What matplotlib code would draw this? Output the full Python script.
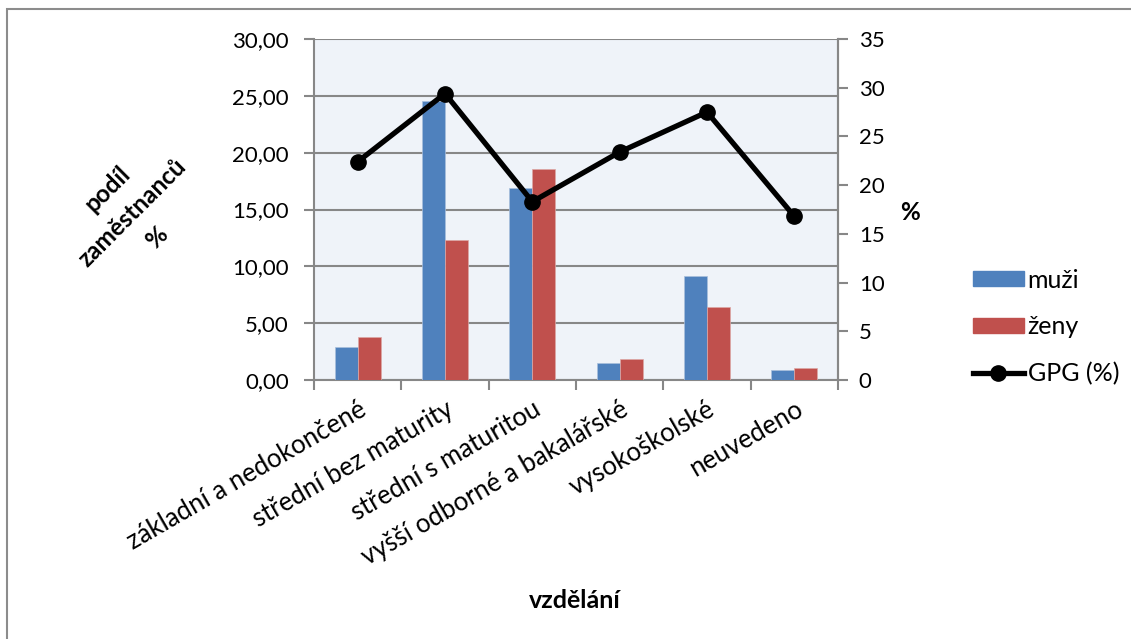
import matplotlib
matplotlib.use("Agg")
import matplotlib.pyplot as plt
from matplotlib.patches import Rectangle
from matplotlib.lines import Line2D
from matplotlib.ticker import FixedLocator, FuncFormatter
import numpy as np

plt.rcParams['font.family'] = ['Lato', 'DejaVu Sans']

categories = ["základní a nedokončené", "střední bez maturity", "střední s maturitou",
              "vyšší odborné a bakalářské", "vysokoškolské", "neuvedeno"]
muzi = [2.93, 24.56, 16.89, 1.47, 9.19, 0.88]
zeny = [3.81, 12.33, 18.56, 1.82, 6.44, 1.03]
gpg = [22.4, 29.4, 18.3, 23.4, 27.5, 16.8]

BLUE = "#4F81BD"
RED = "#C0504D"
GRID = "#878787"

W, H = 1131, 639
fig = plt.figure(figsize=(W / 100, H / 100), dpi=100)
fig.patch.set_facecolor("white")

# outer chart frame
fig.add_artist(Rectangle((7 / W, -0.1), 1.2, 1 - 9 / H + 0.1, transform=fig.transFigure,
                         fill=False, edgecolor="#8C8C8C", linewidth=1.5))

L, R, T, B = 314, 838, 39, 380
ax = fig.add_axes([L / W, 1 - B / H, (R - L) / W, (B - T) / H])
ax.set_facecolor("#EFF3F9")

x = np.arange(len(categories))
bw = 0.265
ax.bar(x - bw / 2, muzi, bw, color=BLUE, edgecolor="#A9BFDC", linewidth=0.5, zorder=3, label="muži")
ax.bar(x + bw / 2, zeny, bw, color=RED, edgecolor="#DCA8A6", linewidth=0.5, zorder=3, label="ženy")

ax.set_xlim(-0.5, len(categories) - 0.5)
ax.set_ylim(0, 30)
ax.set_yticks(np.arange(0, 31, 5))
ax.yaxis.set_major_formatter(FuncFormatter(lambda v, p: f"{v:.2f}".replace(".", ",")))
ax.grid(axis="y", color=GRID, linewidth=1.5, zorder=1)
ax.set_axisbelow(True)

ax.xaxis.set_major_locator(FixedLocator(x))
ax.set_xticklabels(categories, rotation=30, ha="right", rotation_mode="anchor", fontsize=18.5)
ax.xaxis.set_minor_locator(FixedLocator(np.arange(-0.5, len(categories), 1)))
ax.tick_params(axis="x", which="major", length=0, pad=12)
ax.tick_params(axis="x", which="minor", length=7, width=1.5, color=GRID, direction="out")
ax.tick_params(axis="y", length=7, width=1.5, color=GRID, labelsize=16, pad=11)
ax.spines["top"].set_visible(False)
for s in ["left", "right", "bottom"]:
    ax.spines[s].set_color(GRID)
    ax.spines[s].set_linewidth(1.5)

ax2 = ax.twinx()
ax2.plot(x, gpg, color="black", linewidth=3.8, marker="o", markersize=11, zorder=5, label="GPG (%)")
ax2.set_ylim(0, 35)
ax2.set_yticks(np.arange(0, 36, 5))
ax2.tick_params(axis="y", length=7, width=1.5, color=GRID, labelsize=16, pad=8)
for s in ["top", "left", "bottom"]:
    ax2.spines[s].set_visible(False)
ax2.spines["right"].set_color(GRID)
ax2.spines["right"].set_linewidth(1.5)

# axis titles
fig.text(132 / W, 1 - 213 / H, "podíl\nzaměstnanců\n%", rotation=45, ha="center", va="center",
         fontsize=17.5, fontweight="bold", multialignment="center", linespacing=1.6)
fig.text(910 / W, 1 - 212 / H, "%", ha="center", va="center", fontsize=17.5, fontweight="bold")
fig.text(575 / W, 1 - 600 / H, "vzdělání", ha="center", va="center", fontsize=18, fontweight="bold")

# legend
handles = [Rectangle((0, 0), 1, 1, color=BLUE), Rectangle((0, 0), 1, 1, color=RED),
           Line2D([0], [0], color="black", linewidth=3.8, marker="o", markersize=11)]
fig.legend(handles, ["muži", "ženy", "GPG (%)"], loc="center left",
           bbox_to_anchor=(960 / W, 1 - 327 / H), frameon=False, fontsize=18,
           handlelength=2.05, handleheight=0.55, handletextpad=0.15, labelspacing=0.95,
           borderpad=0.0)

fig.savefig("out.png", dpi=100)
